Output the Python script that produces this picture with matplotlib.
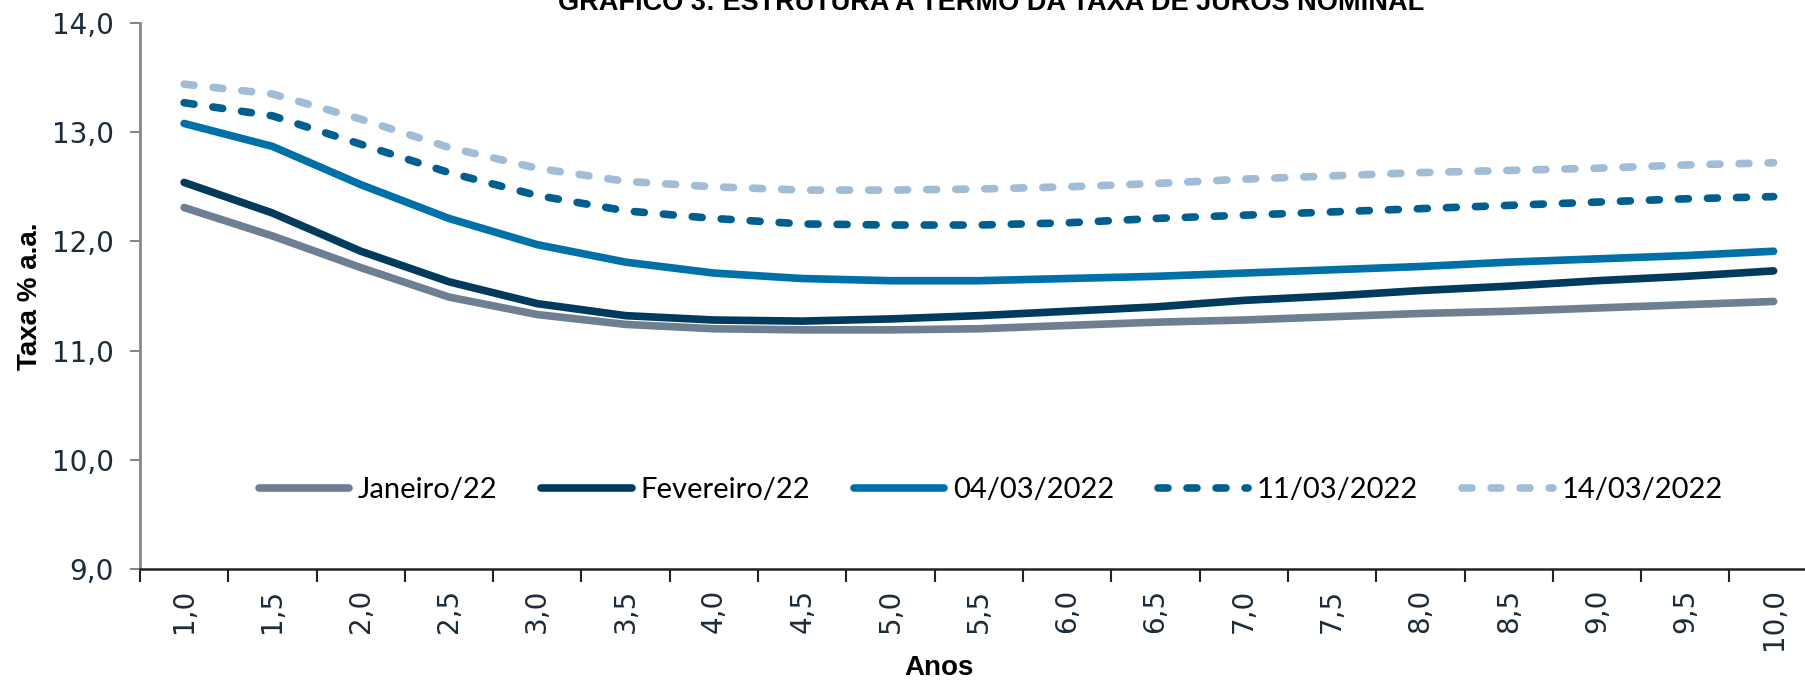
import matplotlib.pyplot as plt
import numpy as np

anos = [1.0, 1.5, 2.0, 2.5, 3.0, 3.5, 4.0, 4.5, 5.0, 5.5,
        6.0, 6.5, 7.0, 7.5, 8.0, 8.5, 9.0, 9.5, 10.0]
tick_labels = [f"{a:.1f}".replace(".", ",") for a in anos]

jan_22 = [12.31, 12.05, 11.76, 11.49, 11.33, 11.24, 11.20, 11.19, 11.19, 11.20,
          11.23, 11.26, 11.28, 11.31, 11.34, 11.36, 11.39, 11.42, 11.45]
fev_22 = [12.54, 12.26, 11.91, 11.63, 11.43, 11.32, 11.28, 11.27, 11.29, 11.32,
          11.36, 11.40, 11.46, 11.50, 11.55, 11.59, 11.64, 11.68, 11.73]
d_04_03 = [13.08, 12.87, 12.52, 12.21, 11.97, 11.81, 11.71, 11.66, 11.64, 11.64,
           11.66, 11.68, 11.71, 11.74, 11.77, 11.81, 11.84, 11.87, 11.91]
d_11_03 = [13.27, 13.15, 12.89, 12.63, 12.42, 12.28, 12.21, 12.16, 12.15, 12.15,
           12.17, 12.21, 12.24, 12.27, 12.30, 12.33, 12.36, 12.39, 12.41]
d_14_03 = [13.44, 13.35, 13.12, 12.86, 12.67, 12.55, 12.50, 12.47, 12.47, 12.48,
           12.50, 12.53, 12.57, 12.60, 12.63, 12.65, 12.67, 12.70, 12.72]

series = [
    ("Janeiro/22", jan_22, "#6e7f91", False),
    ("Fevereiro/22", fev_22, "#003a5c", False),
    ("04/03/2022", d_04_03, "#0070a8", False),
    ("11/03/2022", d_11_03, "#005f8e", True),
    ("14/03/2022", d_14_03, "#a1bcd6", True),
]

fig = plt.figure(figsize=(18.06, 6.81), dpi=100)
ax = fig.add_axes([0.0775, 0.1645, 0.929, 0.8017])

x = np.arange(len(anos))
for name, vals, color, dashed in series:
    line, = ax.plot(x, vals, color=color, lw=5.5, label=name,
                    solid_capstyle="round", dash_capstyle="round",
                    solid_joinstyle="round", dash_joinstyle="round")
    if dashed:
        line.set_dashes((1.3, 2.5))

ax.set_xlim(-0.5, len(anos) - 0.5)
ax.set_ylim(9, 14)
ax.set_yticks(np.arange(9, 14.1, 1))
ax.set_yticklabels([f"{v:.1f}".replace(".", ",") for v in np.arange(9, 14.1, 1)])

# category axis: marks between categories, labels at categories
ax.set_xticks(np.arange(-0.5, len(anos), 1))
ax.set_xticklabels([])
ax.set_xticks(x, minor=True)
ax.set_xticklabels(tick_labels, minor=True, rotation=90)
ax.tick_params(axis="x", which="major", length=9, width=1.5, color="#222222", direction="out")
ax.tick_params(axis="x", which="minor", length=0, pad=14, labelsize=20, labelcolor="#1c2b3a")
ax.tick_params(axis="y", length=7, width=1.5, color="#888888", pad=12,
               labelsize=20, labelcolor="#1c2b3a")

for s in ["top", "right"]:
    ax.spines[s].set_visible(False)
ax.spines["left"].set_color("#888888")
ax.spines["left"].set_linewidth(2)
ax.spines["bottom"].set_color("#222222")
ax.spines["bottom"].set_linewidth(1.8)

ax.set_ylabel("Taxa % a.a.", fontsize=20, fontweight="bold", family="Liberation Sans")
ax.yaxis.set_label_coords(-0.058, 0.5)
ax.set_xlabel("Anos", fontsize=20, fontweight="bold", family="Liberation Sans")
ax.xaxis.set_label_coords(0.476, -0.158)

ax.legend(loc="center", bbox_to_anchor=(0.507, 0.145), ncol=5, frameon=False,
          prop={"family": "Lato", "size": 21}, handlelength=3.1,
          handletextpad=0.3, columnspacing=1.5)

fig.text(0.549, 0.985, "GRÁFICO 3: ESTRUTURA A TERMO DA TAXA DE JUROS NOMINAL",
         ha="center", va="baseline", fontsize=19.5, fontweight="bold",
         family="Liberation Sans")

plt.savefig("out.png", dpi=100)
